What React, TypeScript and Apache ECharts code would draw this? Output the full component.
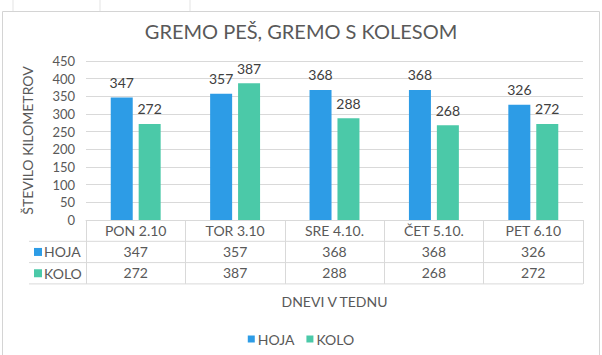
import React, { useEffect, useRef } from "react";
import * as echarts from "echarts";

const categories = ["PON 2.10", "TOR 3.10", "SRE 4.10.", "ČET 5.10.", "PET 6.10"];
const seriesNames = ["HOJA", "KOLO"];
const hoja = [347, 357, 368, 368, 326];
const kolo = [272, 387, 288, 268, 272];
const yMin = 0;
const yMax = 450;
const yInterval = 50;

const colors = ["#2D9CE6", "#4BC9A8"];
const textColor = "#595959";
const lineColor = "#D9D9D9";
const FONT = "Lato";

const W = 602;
const H = 355;
const gridLeft = 86;
const gridRight = 19;
const gridTop = 61;
const gridBottom = 135;
const rowH = 21.3;

export default function App() {
  const ref = useRef<HTMLDivElement>(null);
  useEffect(() => {
    if (!ref.current) return;
    const chart = echarts.init(ref.current, null, { renderer: "svg" });
    const plotBottom = H - gridBottom;
    const tableLeft = 29;
    const tableRight = W - gridRight;
    const rowLines = [1, 2, 3].map((k) => ({
      type: "line",
      shape: { x1: tableLeft, y1: plotBottom + rowH * k, x2: tableRight, y2: plotBottom + rowH * k },
      style: { stroke: lineColor, lineWidth: 1 },
      silent: true,
    }));
    const rowHeaders = seriesNames.flatMap((name, i) => {
      const cy = plotBottom + rowH * (i + 1.5);
      return [
        {
          type: "rect",
          shape: { x: tableLeft + 5, y: cy - 4, width: 8, height: 8 },
          style: { fill: colors[i] },
          silent: true,
        },
        {
          type: "text",
          x: tableLeft + 15,
          y: cy,
          style: {
            text: name,
            fill: textColor,
            font: `14px ${FONT}`,
            textVerticalAlign: "middle",
            verticalAlign: "middle",
          },
          silent: true,
        },
      ];
    });
    const sheetLines = [13, 100, 190].map((x) => ({
      type: "line",
      shape: { x1: x, y1: 0, x2: x, y2: 11 },
      style: { stroke: "#E3E3E3", lineWidth: 1 },
      silent: true,
    }));

    const valueAxis = (data: number[], offset: number) => ({
      type: "category",
      gridIndex: 0,
      data: data.map(String),
      position: "bottom",
      offset,
      axisLine: { show: false },
      axisTick: { show: false },
      axisLabel: { color: textColor, fontSize: 14, fontFamily: FONT, margin: 3, interval: 0 },
      splitLine: { show: false },
    });

    chart.setOption({
      animation: false,
      backgroundColor: "#ffffff",
      textStyle: { fontFamily: FONT },
      title: {
        text: "GREMO PEŠ, GREMO S KOLESOM",
        left: "center",
        top: 16,
        textStyle: { fontSize: 20, fontWeight: "normal", color: textColor, fontFamily: FONT },
      },
      legend: {
        data: seriesNames,
        left: "center",
        top: 327,
        icon: "rect",
        itemWidth: 7,
        itemHeight: 7,
        itemGap: 12,
        textStyle: { color: textColor, fontSize: 14, fontFamily: FONT, padding: [0, 0, 0, -2] },
      },
      grid: { left: gridLeft, right: gridRight, top: gridTop, bottom: gridBottom, containLabel: false },
      xAxis: [
        {
          type: "category",
          data: categories,
          name: "DNEVI V TEDNU",
          nameLocation: "middle",
          nameGap: 74,
          nameTextStyle: { color: textColor, fontSize: 14, fontFamily: FONT },
          axisLine: { show: true, lineStyle: { color: lineColor } },
          axisTick: { show: true, length: rowH * 3, interval: 0, lineStyle: { color: lineColor } },
          axisLabel: { color: textColor, fontSize: 14, fontFamily: FONT, margin: 3, interval: 0 },
        },
        valueAxis(hoja, rowH),
        valueAxis(kolo, rowH * 2),
      ],
      yAxis: {
        type: "value",
        min: yMin,
        max: yMax,
        interval: yInterval,
        name: "ŠTEVILO KILOMETROV",
        nameLocation: "middle",
        nameGap: 52,
        nameRotate: 90,
        nameTextStyle: { color: textColor, fontSize: 14, fontFamily: FONT },
        axisLine: { show: false },
        axisTick: { show: false },
        axisLabel: { color: textColor, fontSize: 13, fontFamily: FONT, margin: 11 },
        splitLine: { lineStyle: { color: lineColor } },
      },
      series: [
        {
          name: seriesNames[0],
          type: "bar",
          data: hoja,
          barWidth: 22,
          barGap: "27%",
          itemStyle: { color: colors[0] },
          label: { show: true, position: "top", distance: 8, color: "#404040", fontSize: 14, fontFamily: FONT },
        },
        {
          name: seriesNames[1],
          type: "bar",
          data: kolo,
          barWidth: 22,
          barGap: "27%",
          itemStyle: { color: colors[1] },
          label: { show: true, position: "top", distance: 8, color: "#404040", fontSize: 14, fontFamily: FONT },
        },
      ],
      graphic: [
        ...sheetLines,
        {
          type: "rect",
          shape: { x: 2.5, y: 11.5, width: 597, height: 400 },
          style: { fill: "none", stroke: "#D4D4D4", lineWidth: 1 },
          silent: true,
        },
        ...rowLines,
        ...rowHeaders,
      ],
    });
    return () => chart.dispose();
  }, []);
  return (
    <div
      ref={ref}
      style={{ position: "fixed", left: 0, top: 0, width: W, height: H }}
    />
  );
}
